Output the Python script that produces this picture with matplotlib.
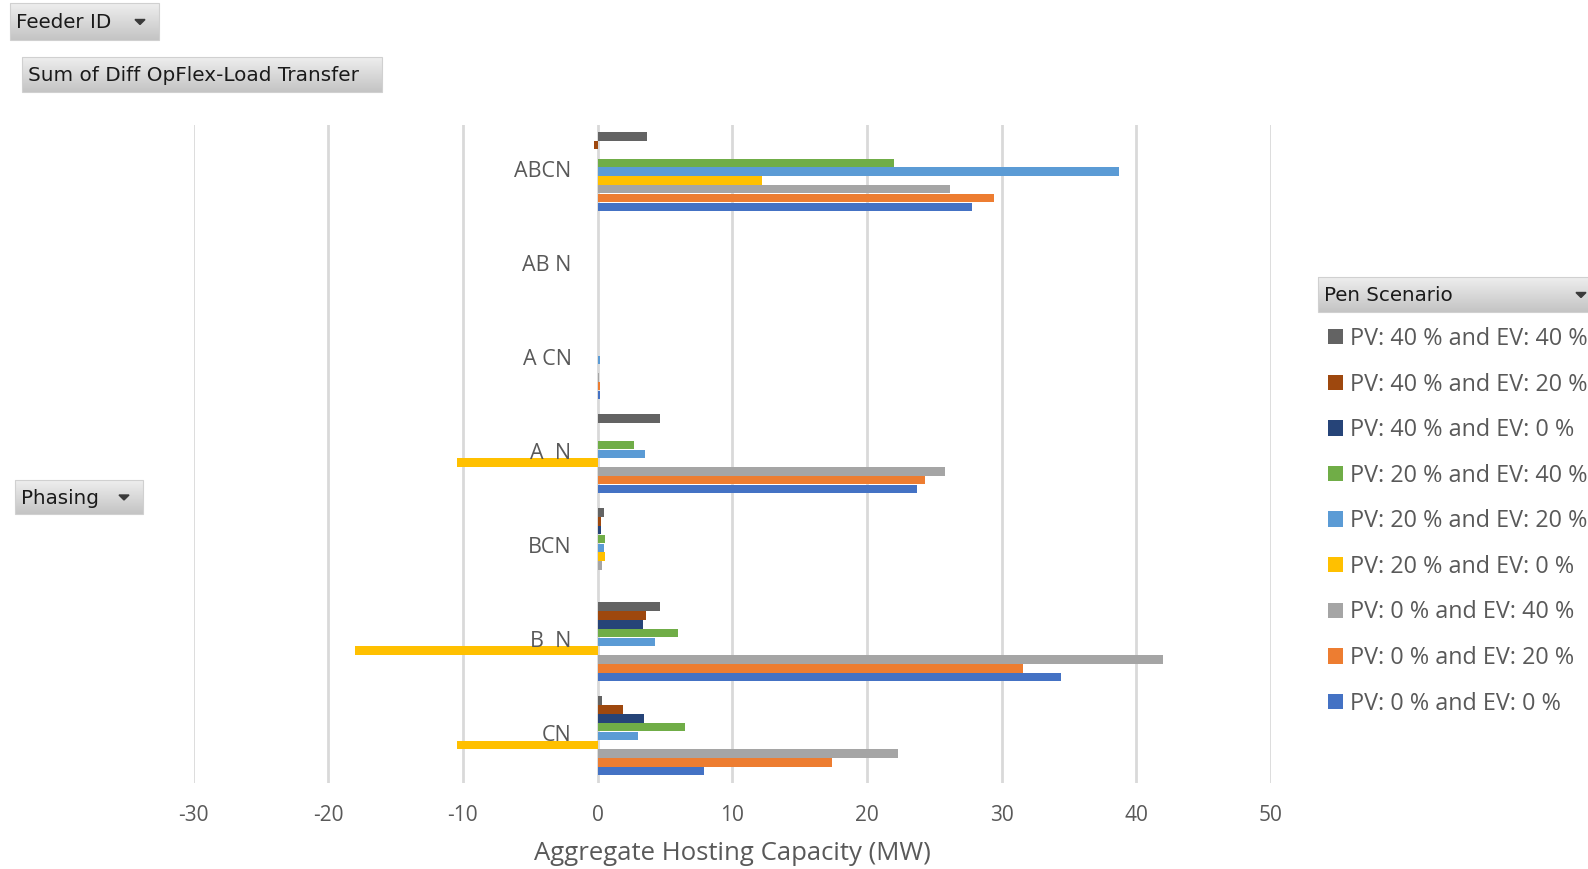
import numpy as np
import matplotlib
matplotlib.use("Agg")
import matplotlib.pyplot as plt
from matplotlib.patches import Rectangle, Polygon

# ---- data -------------------------------------------------------------
phasing = ["ABCN", "AB N", "A CN", "A  N", "BCN", "B  N", "CN"]

scenarios = [
    "PV: 40 % and EV: 40 %",
    "PV: 40 % and EV: 20 %",
    "PV: 40 % and EV: 0 %",
    "PV: 20 % and EV: 40 %",
    "PV: 20 % and EV: 20 %",
    "PV: 20 % and EV: 0 %",
    "PV: 0 % and EV: 40 %",
    "PV: 0 % and EV: 20 %",
    "PV: 0 % and EV: 0 %",
]

# values per scenario, ordered like `phasing`
pv40_ev40 = [3.7, 0.0, 0.0, 4.6, 0.45, 4.6, 0.3]
pv40_ev20 = [-0.3, 0.0, 0.0, 0.0, 0.25, 3.6, 1.9]
pv40_ev0 = [0.0, 0.0, 0.0, 0.0, 0.25, 3.4, 3.45]
pv20_ev40 = [22.0, 0.0, 0.0, 2.7, 0.55, 6.0, 6.5]
pv20_ev20 = [38.7, 0.0, 0.15, 3.5, 0.45, 4.3, 3.0]
pv20_ev0 = [12.2, 0.0, 0.0, -10.4, 0.55, -18.0, -10.4]
pv0_ev40 = [26.2, 0.0, 0.1, 25.8, 0.35, 42.0, 22.3]
pv0_ev20 = [29.4, 0.0, 0.15, 24.3, 0.0, 31.6, 17.4]
pv0_ev0 = [27.8, 0.0, 0.15, 23.7, 0.0, 34.4, 7.9]

series = [pv40_ev40, pv40_ev20, pv40_ev0, pv20_ev40, pv20_ev20,
          pv20_ev0, pv0_ev40, pv0_ev20, pv0_ev0]

colors = ["#636363", "#9E480E", "#264478", "#70AD47", "#5B9BD5",
          "#FFC000", "#A5A5A5", "#ED7D31", "#4472C4"]

x_ticks = [-30, -20, -10, 0, 10, 20, 30, 40, 50]
x_label = "Aggregate Hosting Capacity (MW)"

# ---- figure -------------------------------------------------------------
W, H = 1588, 869
fig = plt.figure(figsize=(W / 100, H / 100), dpi=100)
fig.patch.set_facecolor("white")

TXT = "#595959"
UI_FONT = ["Open Sans", "DejaVu Sans"]
BTN_FONT = ["DejaVu Sans"]

ax = fig.add_axes([193.5 / W, 1 - 783 / H, (1271 - 193.5) / W, (783 - 124.6) / H])
ax.set_xlim(x_ticks[0], x_ticks[-1])
ax.set_ylim(len(phasing) - 0.5, -0.5)
ax.set_axisbelow(True)
for s in ax.spines.values():
    s.set_visible(False)

n = len(series)
slot = 0.0937
y_base = np.arange(len(phasing))
handles = []
for j, (vals, c) in enumerate(zip(series, colors)):
    y = y_base + (j - (n - 1) / 2) * slot
    b = ax.barh(y, vals, height=slot * 0.96, color=c, linewidth=0,
                label=scenarios[j], zorder=2)
    handles.append(b)

ax.set_xticks(x_ticks)
ax.set_xticklabels([str(t) for t in x_ticks], fontsize=15, color=TXT,
                   family=UI_FONT)
ax.tick_params(axis="x", length=0, pad=15.5)
ax.set_yticks([])
ax.grid(axis="x", color="#d9d9d9", linewidth=2)
ax.set_xlabel(x_label, fontsize=18.5, color=TXT, family=UI_FONT, labelpad=11)

# category labels sit beside the zero line, drawn over the bars
for i, name in enumerate(phasing):
    ax.annotate(name, xy=(0, i), xytext=(-26, 0), textcoords="offset pixels",
                ha="right", va="center", fontsize=15.5, color=TXT,
                family=UI_FONT, zorder=5)

leg = fig.legend(handles=handles, loc="upper left",
                 bbox_to_anchor=(1328 / W, 1 - 327 / H),
                 frameon=False, labelcolor=TXT,
                 prop={"family": UI_FONT, "size": 16.8},
                 handlelength=0.63, handleheight=0.63, handletextpad=0.3,
                 labelspacing=0.925, borderpad=0, borderaxespad=0)

# ---- pivot field buttons ---------------------------------------------
ov = fig.add_axes([0, 0, 1, 1], zorder=10)
ov.set_xlim(0, W)
ov.set_ylim(H, 0)
ov.axis("off")

grad = np.linspace(0, 1, 64).reshape(-1, 1)
grad_cmap = matplotlib.colors.LinearSegmentedColormap.from_list(
    "btn", ["#eeeeee", "#d9d9d9", "#c4c4c4"])


def button(x0, y0, x1, y1, label, arrow=True, text_dx=6, size=14.3):
    ov.imshow(grad, cmap=grad_cmap, aspect="auto",
              extent=(x0, x1, y1, y0), zorder=1, interpolation="bilinear")
    ov.add_patch(Rectangle((x0, y0), x1 - x0, y1 - y0, fill=False,
                           edgecolor="#d0d0d0", linewidth=0.8, zorder=2))
    yc = (y0 + y1) / 2
    ov.text(x0 + text_dx, yc + 1, label, ha="left", va="center",
            fontsize=size, color="#1a1a1a", family=BTN_FONT, zorder=3)
    if arrow:
        ax_ = x1 - 19
        ov.add_patch(Polygon([(ax_ - 5, yc - 2), (ax_ + 5, yc - 2), (ax_, yc + 3)],
                             closed=True, color="#3a3a3a", zorder=3))


button(10, 3, 159, 40, "Feeder ID")
button(22, 57, 382, 92, "Sum of Diff OpFlex-Load Transfer", arrow=False,
       size=14.4)
button(15, 480, 143, 514, "Phasing")
button(1318, 277, 1600, 312, "Pen Scenario")
ov.set_xlim(0, W)
ov.set_ylim(H, 0)

fig.savefig("out.png", dpi=100, facecolor="white")
